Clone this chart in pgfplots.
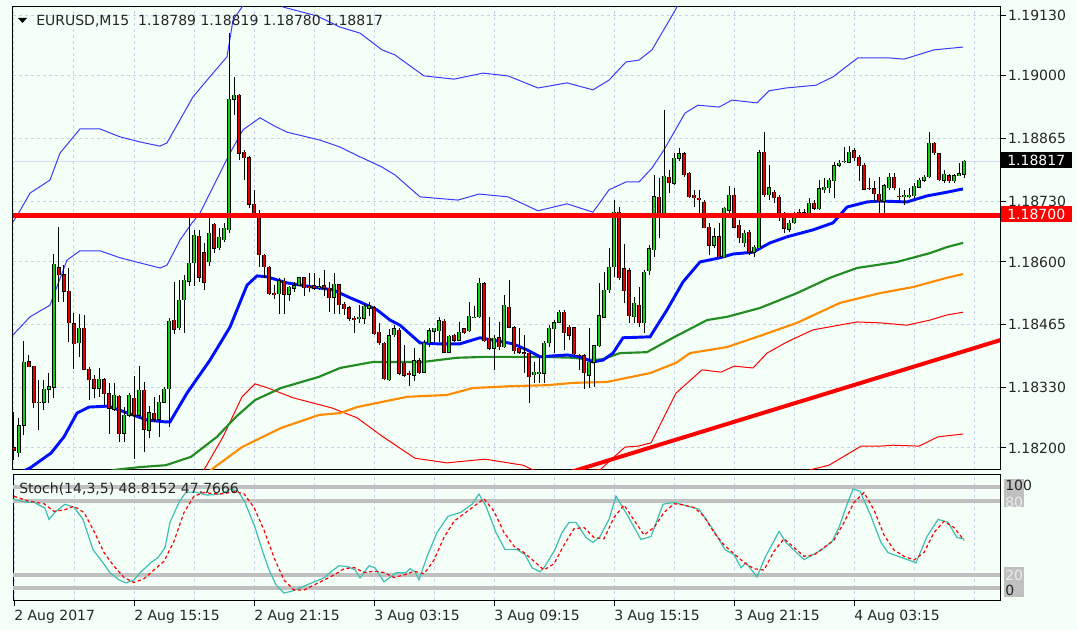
\documentclass[border=0pt]{standalone}
\usepackage{pgfplots}
\pgfplotsset{compat=1.18}
\usepackage{pgfplotstable}
\usepackage{fontspec}
\setmainfont{DejaVu Sans}
\definecolor{bgcol}{HTML}{F4FFF8}
\definecolor{gridcol}{HTML}{C8D0EC}
\definecolor{bidcol}{HTML}{D4DAF8}
\definecolor{cgreen}{HTML}{14D014}
\definecolor{cred}{HTML}{E00000}
\definecolor{maBlue}{HTML}{0010FF}
\definecolor{bandBlue}{HTML}{3A3AFF}
\definecolor{maGreen}{HTML}{228B22}
\definecolor{maOrange}{HTML}{FF8C00}
\definecolor{lvl}{HTML}{C0C0C0}
\definecolor{stK}{HTML}{3CBFB0}
\newcommand\lbl{\fontsize{10.5}{12.6}\selectfont}
\pgfplotstableread[row sep=\\]{
i o h l c\\
0 1.18202 1.18277 1.18174 1.18196\\
1 1.18191 1.18265 1.18181 1.18249\\
2 1.18249 1.18432 1.18228 1.18385\\
3 1.18387 1.18400 1.18374 1.18376\\
4 1.18376 1.18378 1.18288 1.18297\\
5 1.18299 1.18346 1.18239 1.18300\\
6 1.18299 1.18348 1.18282 1.18327\\
7 1.18327 1.18361 1.18297 1.18333\\
8 1.18331 1.18619 1.18310 1.18596\\
9 1.18589 1.18675 1.18514 1.18574\\
10 1.18574 1.18593 1.18514 1.18538\\
11 1.18538 1.18587 1.18428 1.18469\\
12 1.18469 1.18490 1.18370 1.18426\\
13 1.18426 1.18488 1.18396 1.18458\\
14 1.18458 1.18488 1.18368 1.18370\\
15 1.18370 1.18374 1.18303 1.18348\\
16 1.18348 1.18357 1.18308 1.18329\\
17 1.18329 1.18374 1.18310 1.18348\\
18 1.18348 1.18351 1.18292 1.18318\\
19 1.18318 1.18340 1.18232 1.18286\\
20 1.18284 1.18342 1.18282 1.18314\\
21 1.18312 1.18314 1.18213 1.18232\\
22 1.18232 1.18288 1.18213 1.18271\\
23 1.18271 1.18318 1.18267 1.18314\\
24 1.18308 1.18357 1.18178 1.18271\\
25 1.18271 1.18378 1.18267 1.18325\\
26 1.18325 1.18342 1.18191 1.18241\\
27 1.18239 1.18292 1.18222 1.18277\\
28 1.18275 1.18310 1.18256 1.18262\\
29 1.18262 1.18314 1.18224 1.18299\\
30 1.18299 1.18331 1.18297 1.18327\\
31 1.18329 1.18480 1.18245 1.18475\\
32 1.18475 1.18557 1.18447 1.18456\\
33 1.18458 1.18561 1.18454 1.18518\\
34 1.18518 1.18572 1.18447 1.18561\\
35 1.18559 1.18705 1.18550 1.18598\\
36 1.18598 1.18669 1.18548 1.18658\\
37 1.18656 1.18669 1.18557 1.18568\\
38 1.18621 1.18641 1.18540 1.18557\\
39 1.18600 1.18705 1.18593 1.18662\\
40 1.18682 1.18686 1.18621 1.18630\\
41 1.18632 1.18673 1.18626 1.18654\\
42 1.18647 1.18684 1.18643 1.18673\\
43 1.18669 1.19094 1.18664 1.18950\\
44 1.18950 1.18998 1.18916 1.18959\\
45 1.18959 1.18962 1.18821 1.18834\\
46 1.18836 1.18841 1.18776 1.18824\\
47 1.18826 1.18828 1.18716 1.18725\\
48 1.18725 1.18755 1.18695 1.18701\\
49 1.18705 1.18712 1.18589 1.18615\\
50 1.18615 1.18619 1.18566 1.18589\\
51 1.18589 1.18590 1.18529 1.18531\\
52 1.18533 1.18550 1.18520 1.18532\\
53 1.18533 1.18566 1.18490 1.18561\\
54 1.18559 1.18566 1.18490 1.18531\\
55 1.18531 1.18550 1.18518 1.18546\\
56 1.18544 1.18557 1.18535 1.18550\\
57 1.18550 1.18568 1.18548 1.18566\\
58 1.18566 1.18567 1.18527 1.18544\\
59 1.18548 1.18576 1.18535 1.18547\\
60 1.18550 1.18576 1.18540 1.18544\\
61 1.18546 1.18566 1.18540 1.18547\\
62 1.18550 1.18583 1.18527 1.18544\\
63 1.18544 1.18557 1.18492 1.18523\\
64 1.18525 1.18578 1.18490 1.18553\\
65 1.18553 1.18555 1.18490 1.18510\\
66 1.18510 1.18514 1.18486 1.18499\\
67 1.18503 1.18507 1.18475 1.18480\\
68 1.18480 1.18486 1.18449 1.18479\\
69 1.18480 1.18507 1.18469 1.18482\\
70 1.18480 1.18512 1.18469 1.18507\\
71 1.18501 1.18514 1.18484 1.18507\\
72 1.18503 1.18507 1.18443 1.18447\\
73 1.18449 1.18469 1.18421 1.18426\\
74 1.18426 1.18428 1.18346 1.18348\\
75 1.18348 1.18458 1.18346 1.18443\\
76 1.18443 1.18464 1.18439 1.18456\\
77 1.18454 1.18458 1.18357 1.18361\\
78 1.18383 1.18421 1.18353 1.18357\\
79 1.18361 1.18368 1.18335 1.18360\\
80 1.18357 1.18417 1.18346 1.18389\\
81 1.18389 1.18394 1.18361 1.18363\\
82 1.18363 1.18432 1.18361 1.18426\\
83 1.18426 1.18458 1.18417 1.18452\\
84 1.18452 1.18460 1.18428 1.18458\\
85 1.18454 1.18482 1.18428 1.18475\\
86 1.18473 1.18477 1.18404 1.18406\\
87 1.18406 1.18443 1.18404 1.18441\\
88 1.18443 1.18447 1.18430 1.18432\\
89 1.18432 1.18471 1.18430 1.18449\\
90 1.18458 1.18460 1.18447 1.18449\\
91 1.18452 1.18514 1.18449 1.18484\\
92 1.18482 1.18507 1.18480 1.18483\\
93 1.18482 1.18566 1.18480 1.18555\\
94 1.18555 1.18557 1.18428 1.18432\\
95 1.18437 1.18482 1.18411 1.18415\\
96 1.18415 1.18443 1.18368 1.18437\\
97 1.18437 1.18471 1.18411 1.18417\\
98 1.18417 1.18529 1.18415 1.18507\\
99 1.18503 1.18561 1.18458 1.18460\\
100 1.18460 1.18464 1.18404 1.18411\\
101 1.18415 1.18458 1.18404 1.18406\\
102 1.18406 1.18443 1.18363 1.18404\\
103 1.18404 1.18405 1.18297 1.18353\\
104 1.18357 1.18385 1.18340 1.18363\\
105 1.18363 1.18396 1.18340 1.18364\\
106 1.18361 1.18432 1.18340 1.18426\\
107 1.18426 1.18464 1.18417 1.18458\\
108 1.18458 1.18475 1.18404 1.18471\\
109 1.18471 1.18497 1.18469 1.18492\\
110 1.18492 1.18497 1.18411 1.18447\\
111 1.18460 1.18464 1.18432 1.18443\\
112 1.18460 1.18461 1.18400 1.18404\\
113 1.18400 1.18404 1.18368 1.18399\\
114 1.18400 1.18404 1.18329 1.18363\\
115 1.18357 1.18458 1.18329 1.18385\\
116 1.18385 1.18422 1.18331 1.18421\\
117 1.18421 1.18555 1.18417 1.18486\\
118 1.18482 1.18578 1.18480 1.18540\\
119 1.18540 1.18632 1.18535 1.18589\\
120 1.18589 1.18733 1.18568 1.18707\\
121 1.18707 1.18718 1.18561 1.18566\\
122 1.18587 1.18641 1.18514 1.18540\\
123 1.18583 1.18587 1.18469 1.18486\\
124 1.18482 1.18525 1.18469 1.18512\\
125 1.18507 1.18546 1.18460 1.18469\\
126 1.18469 1.18583 1.18447 1.18578\\
127 1.18583 1.18636 1.18572 1.18630\\
128 1.18626 1.18787 1.18611 1.18740\\
129 1.18740 1.18781 1.18654 1.18703\\
130 1.18703 1.18927 1.18701 1.18785\\
131 1.18783 1.18798 1.18748 1.18770\\
132 1.18770 1.18834 1.18765 1.18824\\
133 1.18824 1.18845 1.18819 1.18834\\
134 1.18832 1.18836 1.18783 1.18787\\
135 1.18791 1.18793 1.18738 1.18740\\
136 1.18744 1.18755 1.18718 1.18738\\
137 1.18738 1.18755 1.18701 1.18737\\
138 1.18729 1.18733 1.18673 1.18675\\
139 1.18675 1.18684 1.18615 1.18636\\
140 1.18636 1.18675 1.18632 1.18654\\
141 1.18654 1.18684 1.18609 1.18611\\
142 1.18611 1.18718 1.18609 1.18716\\
143 1.18712 1.18765 1.18697 1.18744\\
144 1.18744 1.18761 1.18673 1.18675\\
145 1.18679 1.18690 1.18641 1.18652\\
146 1.18641 1.18669 1.18632 1.18662\\
147 1.18664 1.18669 1.18615 1.18621\\
148 1.18621 1.18636 1.18611 1.18632\\
149 1.18632 1.18841 1.18630 1.18836\\
150 1.18836 1.18879 1.18740 1.18744\\
151 1.18744 1.18808 1.18733 1.18759\\
152 1.18750 1.18755 1.18727 1.18738\\
153 1.18740 1.18744 1.18690 1.18701\\
154 1.18703 1.18707 1.18662 1.18673\\
155 1.18671 1.18690 1.18664 1.18684\\
156 1.18684 1.18707 1.18682 1.18705\\
157 1.18707 1.18716 1.18695 1.18706\\
158 1.18697 1.18716 1.18695 1.18707\\
159 1.18697 1.18738 1.18695 1.18727\\
160 1.18727 1.18733 1.18712 1.18716\\
161 1.18716 1.18776 1.18712 1.18759\\
162 1.18755 1.18781 1.18748 1.18761\\
163 1.18761 1.18781 1.18748 1.18778\\
164 1.18776 1.18815 1.18738 1.18808\\
165 1.18808 1.18819 1.18804 1.18813\\
166 1.18816 1.18847 1.18813 1.18817\\
167 1.18815 1.18849 1.18813 1.18836\\
168 1.18841 1.18845 1.18819 1.18826\\
169 1.18826 1.18830 1.18776 1.18808\\
170 1.18808 1.18813 1.18755 1.18757\\
171 1.18759 1.18781 1.18755 1.18758\\
172 1.18757 1.18776 1.18733 1.18746\\
173 1.18746 1.18783 1.18705 1.18731\\
174 1.18731 1.18770 1.18705 1.18765\\
175 1.18761 1.18791 1.18755 1.18783\\
176 1.18783 1.18791 1.18755 1.18761\\
177 1.18742 1.18759 1.18733 1.18741\\
178 1.18741 1.18755 1.18722 1.18744\\
179 1.18742 1.18761 1.18738 1.18745\\
180 1.18742 1.18770 1.18738 1.18763\\
181 1.18761 1.18781 1.18759 1.18776\\
182 1.18776 1.18787 1.18772 1.18783\\
183 1.18783 1.18879 1.18781 1.18856\\
184 1.18856 1.18858 1.18830 1.18834\\
185 1.18834 1.18836 1.18776 1.18778\\
186 1.18776 1.18798 1.18770 1.18789\\
187 1.18787 1.18791 1.18772 1.18776\\
188 1.18776 1.18791 1.18772 1.18787\\
189 1.18787 1.18813 1.18785 1.18791\\
190 1.18789 1.18819 1.18780 1.18817\\
}\candles
\begin{document}
\begin{tikzpicture}
\fill[bgcol] (0,0) rectangle (807.75pt,-472.5pt);
\path[use as bounding box] (0,0) rectangle (807.75pt,-472.5pt);
\begin{axis}[
  at={(9.75pt,-5.25pt)}, anchor=north west, scale only axis,
  width=740.25pt, height=347.25pt,
  xmin=-0.2, xmax=197.2, ymin=1.181527, ymax=1.1914815,
  xtick={0,12,...,192}, xticklabels={}, xtick style={draw=none},
  ytick={1.182,1.1833,1.18465,1.186,1.1873,1.18865,1.19,1.1913},
  yticklabels={1.18200,1.18330,1.18465,1.18600,1.18730,1.18865,1.19000,1.19130},
  ytick pos=right, yticklabel pos=right,
  tick align=outside, major tick length=4.5pt,
  ytick style={black, line width=0.75pt},
  grid=major, major grid style={gridcol, line width=0.75pt, dash pattern=on 2.25pt off 2.25pt},
  axis line style={black, line width=0.75pt},
  ticklabel style={font=\lbl, text=black!85},
  yticklabel style={xshift=-2pt},
  candle/.style={draw=none, fill=none, mark=none, mark size=0pt},
]
\addplot[bidcol, line width=0.75pt] coordinates {(-0.2,1.18817) (197.2,1.18817)};
% outer upper band
\addplot[bandBlue, line width=0.75pt] coordinates {(-0.2,1.18686) (1.2,1.18710) (3.2,1.18748) (7.2,1.18776) (9.2,1.18834) (13.2,1.18886) (17.2,1.18886) (21.2,1.18869) (25.2,1.18858) (29.2,1.18849) (30.6,1.18856) (35.8,1.18955) (39.8,1.19006) (42.6,1.19041) (43.8,1.19120) (45.6,1.19148) (48.2,1.19228) (51.2,1.19228) (53.8,1.19148) (60.6,1.19129) (65.2,1.19105) (69.2,1.19092) (73.6,1.19056) (76.2,1.19045) (82,1.19000) (88,1.18993) (93.8,1.19006) (98.8,1.19000) (104.8,1.18974) (110.6,1.18985) (115.8,1.18970) (119,1.18991) (122.4,1.19030) (125,1.19034) (127.6,1.19056) (132.6,1.19148) (137.2,1.19249)};
% inner upper band
\addplot[bandBlue, line width=0.75pt] coordinates {(-0.2,1.18443) (3.2,1.18482) (7.2,1.18507) (10.6,1.18604) (13.2,1.18624) (17.2,1.18624) (21.2,1.18609) (25.2,1.18598) (29.2,1.18587) (30.6,1.18593) (33.2,1.18647) (35.6,1.18684) (37.2,1.18705) (43.2,1.18834) (45.8,1.18884) (49.2,1.18910) (51.8,1.18894) (54.6,1.18879) (61.2,1.18862) (65.2,1.18847) (69.2,1.18826) (73.6,1.18804) (76.2,1.18787) (81.2,1.18740) (88.8,1.18733) (93,1.18746) (98.8,1.18740) (104.8,1.18710) (110.6,1.18725) (115.8,1.18707) (119,1.18755) (122.4,1.18772) (125,1.18772) (127.6,1.18802) (130,1.18841) (134.2,1.18920) (136.8,1.18937) (141,1.18933) (143.6,1.18948) (148.6,1.18942) (151,1.18968) (154.4,1.18974) (160.4,1.18980) (163.8,1.18998) (168.8,1.19039) (174.6,1.19039) (178,1.19036) (184,1.19056) (189.8,1.19062)};
% inner lower band
\addplot[red, line width=0.75pt] coordinates {(35.2,1.18110) (38,1.18153) (41.8,1.18224) (45.6,1.18310) (48.2,1.18338) (50.8,1.18329) (55.8,1.18308) (63.6,1.18286) (68.6,1.18265) (73.8,1.18224) (80.2,1.18178) (86.6,1.18168) (94.2,1.18176) (101.8,1.18163) (104.4,1.18150) (109.2,1.18148) (117.2,1.18153) (122.2,1.18202) (124.8,1.18204) (127.4,1.18211) (132.4,1.18318) (137.6,1.18368) (141.4,1.18363) (144,1.18376) (147.8,1.18372) (150.6,1.18404) (154.6,1.18428) (159.8,1.18454) (168.6,1.18471) (173.2,1.18469) (178.6,1.18464) (183.2,1.18475) (186.6,1.18486) (189.8,1.18492)};
% outer lower band
\addplot[red, line width=0.75pt] coordinates {(155.2,1.18110) (159.2,1.18153) (163,1.18163) (169.4,1.18204) (173.2,1.18204) (175.8,1.18206) (181,1.18204) (184.8,1.18224) (189.8,1.18230)};
% orange MA
\addplot[maOrange, line width=1.6pt] coordinates {(36,1.18120) (39.4,1.18153) (45.6,1.18202) (53.4,1.18243) (61,1.18271) (65.2,1.18275) (68.6,1.18288) (78.6,1.18310) (86.6,1.18314) (91.8,1.18329) (99.8,1.18333) (106.6,1.18335) (111.8,1.18340) (118.6,1.18342) (127.2,1.18361) (132.4,1.18383) (135.2,1.18404) (142.6,1.18417) (149.2,1.18441) (156.6,1.18469) (165.2,1.18512) (173.2,1.18533) (179.8,1.18546) (186.6,1.18566) (189.8,1.18574)};
% green MA
\addplot[maGreen, line width=1.6pt] coordinates {(15,1.18140) (20.2,1.18153) (25.2,1.18159) (30.4,1.18163) (35.4,1.18181) (40.6,1.18224) (44.4,1.18267) (48.2,1.18303) (53.4,1.18329) (61,1.18353) (65.2,1.18372) (71.8,1.18385) (81.8,1.18385) (88.6,1.18394) (94.6,1.18396) (105.2,1.18396) (111.8,1.18394) (115.8,1.18389) (117.8,1.18391) (121.2,1.18404) (126.6,1.18406) (131.8,1.18437) (138.6,1.18475) (142.6,1.18482) (149.2,1.18501) (156.6,1.18533) (163.2,1.18566) (168.6,1.18587) (176.6,1.18600) (183.2,1.18619) (186.6,1.18632) (189.8,1.18641)};
% blue MA
\addplot[maBlue, line width=2.2pt] coordinates {(0,1.18120) (2.4,1.18153) (3.2,1.18157) (7.4,1.18189) (10,1.18224) (12.6,1.18275) (15,1.18288) (18.8,1.18290) (22.8,1.18275) (26.6,1.18260) (30.4,1.18256) (31.2,1.18256) (34.6,1.18318) (39.2,1.18389) (43.2,1.18460) (46.6,1.18550) (48.6,1.18570) (50.6,1.18568) (54.6,1.18555) (59.8,1.18546) (63.8,1.18540) (67.2,1.18523) (69.2,1.18514) (72.6,1.18497) (75.2,1.18475) (77.2,1.18464) (81.2,1.18426) (84.6,1.18424) (89.2,1.18424) (93.2,1.18437) (99.8,1.18424) (102.6,1.18411) (105.2,1.18396) (110.6,1.18400) (113.2,1.18396) (115.8,1.18385) (117.8,1.18389) (119.8,1.18404) (121.8,1.18437) (127.2,1.18439) (130.6,1.18497) (133.8,1.18557) (137.2,1.18600) (141.2,1.18609) (143.8,1.18617) (147.8,1.18621) (151.2,1.18641) (154.6,1.18654) (159.8,1.18669) (163.8,1.18684) (166.6,1.18718) (170.6,1.18729) (173.2,1.18731) (178.6,1.18729) (179.8,1.18733) (182.6,1.18742) (186.6,1.18750) (189.8,1.18757)};
% wicks
\addplot[candle, error bars/.cd, y dir=both, y explicit, error mark=none,
  error bar style={draw=black, line width=0.75pt}]
  table[x=i, y expr={(\thisrow{h}+\thisrow{l})/2}, y error expr={(\thisrow{h}-\thisrow{l})/2}] \candles;
% body outlines
\addplot[candle, error bars/.cd, y dir=both, y explicit, error mark=none,
  error bar style={draw=black, line width=2.4pt}]
  table[x=i, y expr={(\thisrow{o}+\thisrow{c})/2}, y error expr={abs(\thisrow{c}-\thisrow{o})/2+0.0000075}] \candles;
% up bodies
\addplot[candle, restrict expr to domain={\thisrow{c}-\thisrow{o}}{0:1},
  error bars/.cd, y dir=both, y explicit, error mark=none,
  error bar style={draw=cgreen, line width=1.5pt}]
  table[x=i, y expr={(\thisrow{o}+\thisrow{c})/2}, y error expr={abs(\thisrow{c}-\thisrow{o})/2}] \candles;
% down bodies
\addplot[candle, restrict expr to domain={\thisrow{o}-\thisrow{c}}{0.000001:1},
  error bars/.cd, y dir=both, y explicit, error mark=none,
  error bar style={draw=cred, line width=1.5pt}]
  table[x=i, y expr={(\thisrow{o}+\thisrow{c})/2}, y error expr={abs(\thisrow{c}-\thisrow{o})/2}] \candles;
% horizontal level and trend line
\addplot[red, line width=3.4pt] coordinates {(-0.2,1.18700) (197.2,1.18700)};
\addplot[red, line width=3pt] coordinates {(110,1.18144) (200,1.18441)};
\end{axis}
\begin{axis}[
  at={(9.75pt,-356.25pt)}, anchor=north west, scale only axis,
  width=740.25pt, height=93.75pt,
  xmin=-0.2, xmax=197.2, ymin=0, ymax=100,
  xtick={0,24,...,168},
  xticklabels={2 Aug 2017,2 Aug 15:15,2 Aug 21:15,3 Aug 03:15,3 Aug 09:15,3 Aug 15:15,3 Aug 21:15,4 Aug 03:15},
  minor xtick={12,36,60,84,108,132,156,180,192},
  ytick=\empty,
  xtick pos=bottom, tick align=outside, major tick length=4.5pt, minor tick length=0pt,
  xtick style={black, line width=0.75pt},
  xmajorgrids=true, xminorgrids=true,
  major grid style={gridcol, line width=0.75pt, dash pattern=on 2.25pt off 2.25pt},
  minor grid style={gridcol, line width=0.75pt, dash pattern=on 2.25pt off 2.25pt},
  axis line style={black, line width=0.75pt},
  xticklabel style={anchor=north west, font=\lbl, text=black!85, inner sep=0pt, yshift=-3pt},
]
\addplot[lvl, line width=2.5pt] coordinates {(-0.2,90.4) (197.2,90.4)};
\addplot[lvl, line width=2.5pt] coordinates {(-0.2,79.2) (197.2,79.2)};
\addplot[lvl, line width=2.5pt] coordinates {(-0.2,20) (197.2,20)};
\addplot[lvl, line width=2.5pt] coordinates {(-0.2,9.6) (197.2,9.6)};
\addplot[stK, line width=0.9pt] coordinates {(0,80.6) (2.4,78.2) (4,78.2) (6.2,73.4) (7,64.5) (8.2,70.2) (10.2,76.6) (12,74.2) (13.8,64.5) (15.8,40.3) (17.8,29.8) (19.2,21.8) (21,16.1) (22.4,13.7) (24,16.1) (25.4,22.6) (27.6,30.6) (28.8,33.9) (30.2,41.9) (31.2,62.1) (33,78.2) (34.4,86.3) (36.4,86.3) (38.6,83.9) (41.2,84.7) (43.4,88.7) (44.8,87.1) (46.2,78.2) (48.2,58.1) (49.6,40.3) (51,24.2) (52.4,12.1) (54,5.6) (55.8,7.3) (58.6,12.1) (62,17.7) (63.4,22.6) (65,27.4) (66.8,26.6) (68.2,24.2) (69.2,17.7) (71,27.4) (72.2,25.8) (74,14.5) (76.4,21.8) (78.4,21.8) (79.2,25.0) (80.2,22.6) (81,16.1) (82.6,34.7) (84.6,54.0) (86.8,66.9) (89.4,70.2) (91.6,76.6) (93,84.7) (94.4,75.0) (96.4,54.0) (98.2,40.3) (100.6,40.3) (102.2,36.3) (103.6,25.8) (105.2,22.6) (106,25.8) (108.2,40.3) (109.6,54.0) (111,62.1) (112.4,62.1) (114.4,50.0) (115.8,46.0) (117.2,50.8) (119,64.5) (120.4,83.1) (122.8,66.9) (125.4,48.4) (127.4,50.8) (129.8,76.6) (132,78.2) (134.8,75.0) (137,72.6) (139.8,56.5) (142.2,40.3) (144,36.3) (145.4,25.8) (146.4,29.8) (148.6,18.5) (150.2,33.9) (153,54.8) (154.4,46.0) (158,32.3) (161.6,40.3) (163.6,46.8) (165,58.1) (166.4,74.2) (167.8,88.7) (169.2,87.1) (171.4,66.9) (173.4,46.0) (174.8,37.9) (177.6,33.9) (180.4,29.8) (182.6,50.8) (184.8,64.5) (186.8,62.1) (188.6,50.0) (190,48.8)};
\addplot[red, line width=0.9pt, dash pattern=on 2.5pt off 2pt] coordinates {(0,83) (3,79) (6,77) (8,71) (10,72) (12,75) (14,70) (16,55) (18,38) (20,27) (22,18) (24,14) (26,17) (28,24) (30,31) (32,47) (34,70) (36,83) (38,86) (40,85) (42,85) (44,87) (46,85) (48,74) (50,56) (52,34) (54,16) (56,8) (58,8) (60,12) (62,16) (64,20) (66,25) (68,26) (70,22) (72,23) (74,22) (76,18) (78,20) (80,23) (82,21) (84,32) (86,50) (88,63) (90,69) (92,75) (94,81) (96,71) (98,54) (100,43) (102,38) (104,31) (106,24) (108,29) (110,44) (112,57) (114,58) (116,50) (118,49) (120,66) (122,76) (124,64) (126,52) (128,58) (130,70) (132,77) (134,76) (136,74) (138,67) (140,54) (142,44) (144,37) (146,30) (148,25) (150,24) (152,39) (154,49) (156,42) (158,35) (160,36) (162,42) (164,48) (166,62) (168,78) (170,86) (172,72) (174,52) (176,40) (178,35) (180,32) (182,38) (184,54) (186,63) (188,58) (190,47.8)};
\end{axis}
% title
\fill[black] (13.5pt,-13.5pt) -- (20.25pt,-13.5pt) -- (16.875pt,-17.25pt) -- cycle;
\node[anchor=base west, inner sep=0pt, font=\lbl, text=black!85] at (27pt,-19.5pt) {EURUSD,M15\ \ 1.18789 1.18819 1.18780 1.18817};
\node[anchor=base west, inner sep=0pt, font=\lbl, text=black!85] at (14.25pt,-369.75pt) {Stoch(14,3,5) 48.8152 47.7666};
% price boxes
\fill[black] (750.75pt,-114pt) rectangle (804pt,-126pt);
\node[anchor=west, inner sep=0pt, font=\lbl, text=white] at (755.25pt,-120pt) {1.18817};
\fill[red] (750.75pt,-154.5pt) rectangle (804pt,-166.5pt);
\node[anchor=west, inner sep=0pt, font=\lbl, text=white] at (755.25pt,-160.5pt) {1.18700};
% stoch scale labels
\fill[lvl] (753pt,-359.25pt) rectangle (768pt,-380.25pt);
\node[anchor=west, inner sep=0pt, font=\lbl, text=black!8] at (753.75pt,-376.5pt) {80};
\node[anchor=west, inner sep=0pt, font=\lbl, text=black!85] at (753.75pt,-363.75pt) {100};
\fill[lvl] (753pt,-425.25pt) rectangle (768pt,-447.75pt);
\node[anchor=west, inner sep=0pt, font=\lbl, text=black!8] at (753.75pt,-431.25pt) {20};
\node[anchor=west, inner sep=0pt, font=\lbl, text=black!85] at (753.75pt,-442.5pt) {0};
\end{tikzpicture}
\end{document}
